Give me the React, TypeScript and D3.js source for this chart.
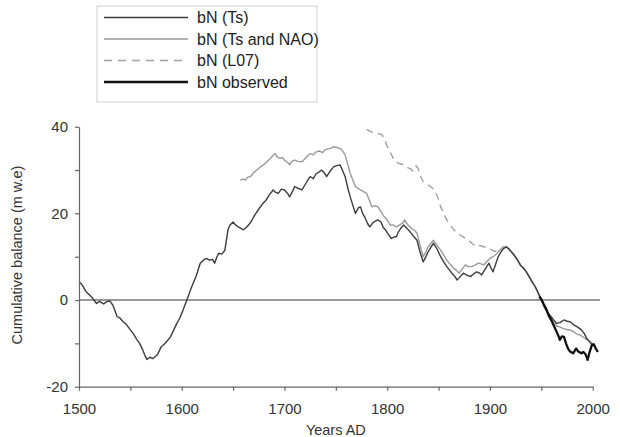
import React, { useRef, useEffect } from "react";
import * as d3 from "d3";

// cumulative balance (m w.e.), [year, value]
const bnTs: [number, number][] = [
  [1500, 4.2], [1503, 3.5], [1507, 1.9], [1510, 1.2], [1513, 0.5], [1517, -0.8],
  [1520, -0.3], [1524, -0.9], [1527, -0.4], [1530, -0.2], [1533, -1.2], [1537, -3.8],
  [1540, -4.2], [1543, -5.0], [1546, -5.6], [1550, -6.9], [1553, -7.8], [1556, -9.0],
  [1559, -10.0], [1562, -11.5], [1564, -12.7], [1566, -13.7], [1569, -13.2], [1572, -13.5],
  [1576, -12.7], [1578, -11.8], [1580, -10.8], [1583, -10.2], [1586, -9.4], [1589, -8.5],
  [1592, -7.0], [1595, -5.5], [1598, -4.2], [1601, -2.5], [1605, 0], [1608, 2.0],
  [1611, 3.8], [1614, 5.5], [1618, 8.5], [1621, 9.2], [1624, 9.6], [1627, 9.2],
  [1630, 9.4], [1632, 8.5], [1634, 9.8], [1636, 10.8], [1639, 10.6], [1642, 11.5],
  [1645, 16.2], [1647, 17.3], [1650, 18.0], [1652, 17.4], [1655, 16.9], [1658, 16.5],
  [1660, 16.2], [1663, 16.8], [1665, 17.3], [1668, 18.3], [1671, 19.6], [1675, 21.0],
  [1679, 22.3], [1682, 23.0], [1685, 24.2], [1689, 25.4], [1691, 24.9], [1694, 24.6],
  [1697, 25.6], [1700, 25.4], [1703, 24.6], [1705, 23.8], [1708, 25.2], [1710, 26.2],
  [1713, 25.8], [1717, 25.4], [1720, 26.6], [1723, 27.8], [1725, 28.5], [1728, 28.0],
  [1731, 29.2], [1734, 29.6], [1736, 30.0], [1739, 29.3], [1741, 28.5], [1744, 29.6],
  [1748, 30.8], [1751, 31.0], [1754, 31.2], [1756, 30.2], [1759, 28.5], [1762, 25.5],
  [1764, 23.8], [1767, 21.5], [1769, 20.0], [1772, 21.3], [1774, 21.5], [1776, 20.0],
  [1778, 19.2], [1781, 17.6], [1783, 16.9], [1786, 17.8], [1789, 18.3], [1791, 18.5],
  [1794, 18.0], [1796, 16.8], [1798, 16.3], [1801, 15.2], [1804, 14.2], [1807, 14.6],
  [1809, 14.6], [1811, 15.8], [1813, 16.5], [1816, 17.3], [1819, 16.6], [1822, 15.8],
  [1825, 14.9], [1829, 13.8], [1832, 11.0], [1835, 8.8], [1838, 10.2], [1840, 11.2],
  [1843, 12.4], [1845, 13.1], [1848, 12.0], [1852, 10.0], [1855, 8.8], [1858, 7.7],
  [1861, 6.8], [1863, 6.2], [1866, 5.4], [1868, 4.6], [1871, 5.4], [1874, 6.2],
  [1877, 5.8], [1881, 5.4], [1884, 6.0], [1887, 6.5], [1890, 6.2], [1892, 5.8],
  [1895, 7.0], [1899, 8.5], [1901, 7.4], [1903, 6.5], [1906, 8.6], [1908, 10.0],
  [1911, 11.2], [1913, 11.8], [1916, 12.3], [1919, 11.7], [1923, 10.5], [1926, 9.6],
  [1930, 7.9], [1933, 7.3], [1936, 6.2], [1939, 5.0], [1942, 3.8], [1944, 3.1],
  [1947, 1.6], [1950, 0], [1953, -1.5], [1955, -2.3], [1958, -3.4], [1962, -4.6],
  [1965, -5.4], [1968, -5.2], [1972, -4.6], [1975, -4.9], [1978, -5.0], [1982, -5.8],
  [1985, -6.2], [1989, -6.9], [1992, -7.8], [1994, -8.8], [1997, -9.6], [2000, -10.6],
];

const bnTsNao: [number, number][] = [
  [1657, 27.7], [1660, 27.9], [1662, 27.7], [1664, 28.3], [1667, 28.5], [1670, 29.4],
  [1673, 30.0], [1676, 30.6], [1680, 31.3], [1683, 31.9], [1686, 32.6], [1689, 33.4],
  [1691, 33.8], [1693, 33.0], [1696, 32.7], [1698, 32.9], [1700, 32.3], [1703, 31.8],
  [1705, 31.2], [1707, 32.0], [1710, 32.3], [1713, 32.0], [1717, 31.9], [1720, 32.6],
  [1723, 33.4], [1725, 33.8], [1728, 33.5], [1731, 34.2], [1734, 34.4], [1737, 34.0],
  [1739, 34.6], [1742, 34.9], [1745, 35.0], [1748, 35.4], [1751, 35.2], [1754, 35.0],
  [1756, 34.6], [1759, 33.5], [1762, 31.0], [1764, 29.2], [1767, 27.4], [1769, 26.2],
  [1772, 25.7], [1774, 25.4], [1777, 25.0], [1780, 24.6], [1783, 22.8], [1785, 21.5],
  [1788, 21.8], [1791, 21.5], [1794, 20.4], [1796, 19.6], [1798, 19.0], [1800, 18.5],
  [1803, 17.3], [1806, 17.3], [1809, 16.9], [1812, 17.3], [1815, 17.8], [1817, 18.5],
  [1820, 17.4], [1824, 16.5], [1827, 16.0], [1829, 15.4], [1832, 12.6], [1835, 10.0],
  [1838, 11.3], [1840, 12.3], [1843, 13.2], [1845, 13.8], [1848, 12.8], [1852, 11.5],
  [1855, 10.3], [1858, 9.2], [1861, 8.3], [1865, 7.3], [1868, 6.7], [1870, 6.2],
  [1873, 7.2], [1876, 8.1], [1879, 7.7], [1882, 7.7], [1885, 8.0], [1889, 8.5],
  [1892, 8.3], [1894, 8.1], [1897, 8.9], [1900, 9.6], [1903, 10.0], [1907, 10.8],
  [1910, 11.6], [1913, 12.3], [1916, 12.2], [1919, 11.5], [1923, 10.6], [1926, 9.5],
  [1930, 8.0], [1933, 7.2], [1936, 6.4], [1939, 5.2], [1942, 4.0], [1945, 2.6],
  [1948, 1.2], [1950, 0], [1953, -1.8], [1956, -3.0], [1958, -3.8], [1961, -5.0],
  [1965, -6.0], [1968, -6.2], [1971, -6.6], [1975, -6.8], [1978, -6.9], [1982, -7.4],
  [1985, -7.9], [1988, -8.1], [1991, -8.6], [1994, -9.1], [1997, -9.6], [2001, -10.2],
];

const bnL07: [number, number][] = [
  [1780, 39.4], [1783, 39.0], [1785, 38.8], [1788, 38.6], [1792, 38.4], [1795, 38.1],
  [1798, 36.8], [1800, 35.4], [1803, 34.0], [1806, 32.7], [1808, 31.9], [1812, 31.5],
  [1816, 31.2], [1819, 30.6], [1822, 30.4], [1825, 29.8], [1828, 31.0], [1830, 30.4],
  [1832, 28.8], [1835, 27.3], [1838, 26.8], [1842, 26.2], [1845, 25.6], [1847, 25.0],
  [1850, 23.2], [1852, 21.5], [1855, 20.0], [1858, 18.5], [1861, 17.4], [1865, 16.2],
  [1868, 15.5], [1871, 15.0], [1875, 14.4], [1879, 13.8], [1883, 13.0], [1887, 12.3],
  [1890, 12.6], [1894, 12.3], [1897, 12.0], [1899, 11.9], [1902, 11.5], [1905, 11.2],
  [1908, 11.6], [1910, 11.9],
];

const bnObserved: [number, number][] = [
  [1948, 0.8], [1950, 0.2], [1952, -0.8], [1955, -2.2], [1957, -3.5], [1960, -4.8],
  [1962, -5.8], [1965, -7.4], [1967, -8.5], [1968, -9.2], [1970, -8.4], [1972, -8.5],
  [1974, -10.0], [1976, -11.2], [1978, -11.9], [1981, -12.3], [1983, -11.5], [1984, -11.2],
  [1986, -11.9], [1989, -12.3], [1991, -12.0], [1993, -12.5], [1995, -13.8], [1997, -12.0],
  [1999, -10.5], [2001, -10.2], [2003, -11.2], [2005, -12.0],
];

const xTicks = [1500, 1550, 1600, 1650, 1700, 1750, 1800, 1850, 1900, 1950, 2000];
const yTicks = [-20, -10, 0, 10, 20, 30, 40];

const series = [
  { name: "bN (Ts)", data: bnTs, color: "#3c3c3c", width: 1.4, dash: null },
  { name: "bN (Ts and NAO)", data: bnTsNao, color: "#9a9a9a", width: 1.4, dash: null },
  { name: "bN (L07)", data: bnL07, color: "#a0a0a0", width: 1.4, dash: "7,5" },
  { name: "bN observed", data: bnObserved, color: "#111111", width: 2.3, dash: null },
];

const font = "'Liberation Sans', Arial, sans-serif";

const App = () => {
  const ref = useRef<SVGSVGElement>(null);

  useEffect(() => {
    const svg = d3.select(ref.current);
    svg.selectAll("*").remove();

    const x = d3.scaleLinear().domain([1500, 2000]).range([79, 592.7]);
    const y = d3.scaleLinear().domain([-20, 40]).range([386.7, 126.7]);

    // zero line
    svg
      .append("line")
      .attr("x1", x(1500))
      .attr("x2", x(2007))
      .attr("y1", y(0))
      .attr("y2", y(0))
      .attr("stroke", "#777")
      .attr("stroke-width", 1.6);

    const line = d3
      .line<[number, number]>()
      .x((d) => x(d[0]))
      .y((d) => y(d[1]));

    // draw order: dashed, NAO, Ts, observed on top
    [2, 1, 0, 3].forEach((i) => {
      const s = series[i];
      svg
        .append("path")
        .datum(s.data)
        .attr("d", line)
        .attr("fill", "none")
        .attr("stroke", s.color)
        .attr("stroke-width", s.width)
        .attr("stroke-linejoin", "round")
        .attr("stroke-dasharray", s.dash);
    });

    // axes
    const xAxis = svg
      .append("g")
      .attr("transform", `translate(0,${y(-20)})`)
      .call(
        d3
          .axisBottom(x)
          .tickValues(xTicks)
          .tickSize(4)
          .tickSizeOuter(0)
          .tickPadding(13)
          .tickFormat((d) => (+d % 100 === 0 ? String(d) : ""))
      );

    const yAxis = svg
      .append("g")
      .attr("transform", `translate(${x(1500)},0)`)
      .call(
        d3
          .axisLeft(y)
          .tickValues(yTicks)
          .tickSize(4)
          .tickSizeOuter(0)
          .tickPadding(7)
          .tickFormat((d) => (+d % 20 === 0 ? String(d) : ""))
      );

    [xAxis, yAxis].forEach((g) => {
      g.select(".domain").attr("stroke", "#666").attr("stroke-width", 1.2);
      g.selectAll(".tick line").attr("stroke", "#666").attr("stroke-width", 1.2);
      g.selectAll("text")
        .attr("fill", "#333")
        .style("font-family", font)
        .style("font-size", "15px");
    });

    svg
      .append("text")
      .attr("x", (x(1500) + x(2000)) / 2)
      .attr("y", 435)
      .attr("text-anchor", "middle")
      .attr("fill", "#333")
      .style("font-family", font)
      .style("font-size", "14.5px")
      .text("Years AD");

    svg
      .append("text")
      .attr("transform", "translate(22,255) rotate(-90)")
      .attr("text-anchor", "middle")
      .attr("fill", "#333")
      .style("font-family", font)
      .style("font-size", "14.5px")
      .text("Cumulative balance (m w.e)");

    // legend
    const lg = svg.append("g");
    lg.append("rect")
      .attr("x", 97)
      .attr("y", 6)
      .attr("width", 220)
      .attr("height", 96)
      .attr("fill", "#fff")
      .attr("stroke", "#d0d0d0");

    series.forEach((s, i) => {
      const ly = 17.5 + i * 21.5;
      lg.append("line")
        .attr("x1", 104)
        .attr("x2", 188)
        .attr("y1", ly)
        .attr("y2", ly)
        .attr("stroke", s.color)
        .attr("stroke-width", s.width)
        .attr("stroke-dasharray", s.dash ? "8,6" : null);
      lg.append("text")
        .attr("x", 197)
        .attr("y", ly)
        .attr("dy", "0.35em")
        .attr("fill", "#222")
        .style("font-family", font)
        .style("font-size", "16px")
        .text(s.name);
    });
  }, []);

  return (
    <svg
      ref={ref}
      width={620}
      height={437}
      style={{ position: "absolute", left: 0, top: 0, background: "#fff" }}
    />
  );
};

export default App;
